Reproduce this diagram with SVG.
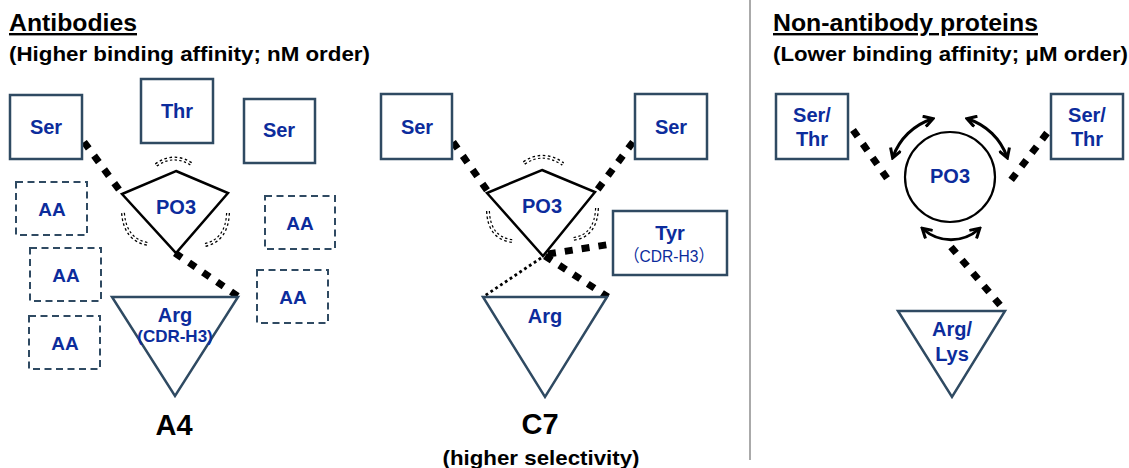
<svg xmlns="http://www.w3.org/2000/svg" width="1129" height="468" viewBox="0 0 1129 468">
<defs>
<marker id="ah" viewBox="0 0 12 12" refX="9" refY="6" markerWidth="13" markerHeight="13" markerUnits="userSpaceOnUse" orient="auto-start-reverse">
<path d="M1.5,1 L10,6 L1.5,11" fill="none" stroke="#000" stroke-width="2.8" stroke-linejoin="miter"/>
</marker>
</defs>
<style>
text{font-family:"Liberation Sans",Arial,sans-serif;font-weight:bold;}
.ttl{font-size:24px;fill:#000;text-decoration:underline;}
.sub{font-size:21px;fill:#000;}
.big{font-size:29px;fill:#000;text-anchor:middle;}
.n{font-size:20px;fill:#0C2C9C;text-anchor:middle;}
.aa{font-size:19px;fill:#0C2C9C;text-anchor:middle;}
.s{font-size:17px;fill:#0C2C9C;text-anchor:middle;}
.box{fill:#fff;stroke:#2F4A62;stroke-width:2.5;}
.dbox{fill:#fff;stroke:#2F4A62;stroke-width:2;stroke-dasharray:7 4.5;}
.tri{fill:#fff;stroke:#2F4A62;stroke-width:2.5;stroke-linejoin:miter;}
.po{fill:#fff;stroke:#000;stroke-width:2.5;stroke-linejoin:miter;}
.hb{fill:none;stroke:#000;stroke-width:7;stroke-dasharray:8 9;}
.fd{fill:none;stroke:#000;stroke-width:2.8;stroke-dasharray:2.8 3;}
.dd{fill:none;stroke:#000;stroke-width:4;stroke-dasharray:2.5 2.5;}
.ddw{fill:none;stroke:#fff;stroke-width:1.5;}
.arr{fill:none;stroke:#000;stroke-width:3;marker-start:url(#ah);marker-end:url(#ah);}
</style>
<rect width="1129" height="468" fill="#fff"/>
<line x1="750" y1="0" x2="750" y2="460" stroke="#AAAAAA" stroke-width="2"/>
<g id="headings">
<text class="ttl" x="9" y="31" textLength="128" lengthAdjust="spacingAndGlyphs">Antibodies</text>
<text class="sub" x="9" y="61" textLength="361" lengthAdjust="spacingAndGlyphs">(Higher binding affinity; nM order)</text>
<text class="ttl" x="773" y="31" textLength="265" lengthAdjust="spacingAndGlyphs">Non-antibody proteins</text>
<text class="sub" x="773" y="61" textLength="355" lengthAdjust="spacingAndGlyphs">(Lower binding affinity; μM order)</text>
<text class="big" x="174" y="435">A4</text>
<text class="big" x="540" y="434">C7</text>
<text class="sub" x="541" y="465" text-anchor="middle" textLength="197" lengthAdjust="spacingAndGlyphs">(higher selectivity)</text>
</g>
<g id="connectors">
<line class="hb" x1="84" y1="142" x2="123" y2="195"/>
<line class="hb" x1="175" y1="253" x2="239" y2="297"/>
<line class="hb" x1="453" y1="142" x2="489" y2="193"/>
<line class="hb" x1="633" y1="142" x2="595" y2="193"/>
<line class="hb" x1="548" y1="254" x2="612" y2="244"/>
<line class="hb" x1="545" y1="256" x2="608" y2="297"/>
<line class="fd" x1="541" y1="258" x2="483" y2="297"/>
<line class="hb" x1="853" y1="130" x2="889" y2="181"/>
<line class="hb" x1="1047" y1="133" x2="1008" y2="184"/>
<line class="hb" x1="951" y1="247" x2="1005" y2="311"/>
<path class="dd" d="M156,165 Q174,152 193,165"/>
<path class="ddw" d="M156,165 Q174,152 193,165"/>
<path class="dd" d="M123,213 Q125,240 148,244"/>
<path class="ddw" d="M123,213 Q125,240 148,244"/>
<path class="dd" d="M228,213 Q227,240 205,245"/>
<path class="ddw" d="M228,213 Q227,240 205,245"/>
<path class="dd" d="M524,163 Q543,150 563,164"/>
<path class="ddw" d="M524,163 Q543,150 563,164"/>
<path class="dd" d="M488,211 Q489,238 512,241"/>
<path class="ddw" d="M488,211 Q489,238 512,241"/>
<path class="dd" d="M597,208 Q596,236 573,239"/>
<path class="ddw" d="M597,208 Q596,236 573,239"/>
<path class="arr" d="M893,157 A61,61 0 0 1 932,119"/>
<path class="arr" d="M968,119 A61,61 0 0 1 1007,157"/>
<path class="arr" d="M923,229 A42,42 0 0 0 979,229"/>
</g>
<g id="a4-ser1"><rect class="box" x="10" y="95" width="72" height="64"/><text class="n" x="46" y="134">Ser</text></g>
<g id="a4-thr"><rect class="box" x="141" y="79" width="72" height="64"/><text class="n" x="177" y="118">Thr</text></g>
<g id="a4-ser2"><rect class="box" x="244" y="99" width="71" height="64"/><text class="n" x="279" y="137">Ser</text></g>
<g id="a4-aa1"><rect class="dbox" x="16" y="182" width="71" height="53"/><text class="aa" x="52" y="216">AA</text></g>
<g id="a4-aa2"><rect class="dbox" x="30" y="248" width="71" height="53"/><text class="aa" x="66" y="282">AA</text></g>
<g id="a4-aa3"><rect class="dbox" x="29" y="316" width="71" height="53"/><text class="aa" x="65" y="350">AA</text></g>
<g id="a4-aa4"><rect class="dbox" x="265" y="196" width="70" height="53"/><text class="aa" x="300" y="230">AA</text></g>
<g id="a4-aa5"><rect class="dbox" x="257" y="270" width="71" height="53"/><text class="aa" x="293" y="304">AA</text></g>
<g id="a4-po3"><polygon class="po" points="176,171 228,193 176,253 122,194"/><text class="n" x="176" y="214">PO3</text></g>
<g id="a4-arg"><polygon class="tri" points="112,297 238,297 175,396"/><text class="n" x="175" y="322">Arg</text><text class="s" x="175" y="342">(CDR-H3)</text></g>
<g id="c7-ser1"><rect class="box" x="381" y="94" width="71" height="65"/><text class="n" x="417" y="134">Ser</text></g>
<g id="c7-ser2"><rect class="box" x="635" y="94" width="72" height="65"/><text class="n" x="671" y="134">Ser</text></g>
<g id="c7-po3"><polygon class="po" points="542,170 595,192 543,256 487,193"/><text class="n" x="542" y="213">PO3</text></g>
<g id="c7-tyr"><rect class="box" x="613" y="211" width="114" height="64"/><text class="n" x="670" y="240">Tyr</text><text x="669" y="262" text-anchor="middle" style="font-family:'Liberation Sans','Noto Sans CJK JP',sans-serif;font-weight:normal;font-size:17px;fill:#0C2C9C" textLength="90" lengthAdjust="spacingAndGlyphs">（CDR-H3）</text></g>
<g id="c7-arg"><polygon class="tri" points="483,297 607,297 545,397"/><text class="n" x="545" y="323">Arg</text></g>
<g id="na-st1"><rect class="box" x="776" y="94" width="72" height="65"/><text class="n" x="812" y="122">Ser/</text><text class="n" x="812" y="146">Thr</text></g>
<g id="na-st2"><rect class="box" x="1051" y="94" width="72" height="65"/><text class="n" x="1087" y="122">Ser/</text><text class="n" x="1087" y="146">Thr</text></g>
<g id="na-po3"><circle cx="950" cy="177" r="45" fill="#fff" stroke="#000" stroke-width="2.2"/><text class="n" x="950" y="183">PO3</text></g>
<g id="na-arglys"><polygon class="tri" points="898,311 1005,311 952,397"/><text class="n" x="952" y="336">Arg/</text><text class="n" x="952" y="361">Lys</text></g>
</svg>
